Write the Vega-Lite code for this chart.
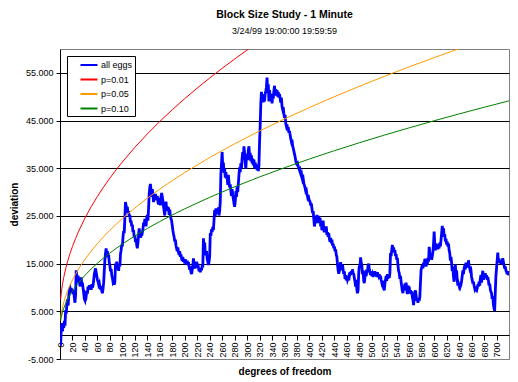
{
"$schema": "https://vega.github.io/schema/vega-lite/v6.json",
"autosize": "none",
"width": 449,
"height": 310,
"padding": {"left": 60, "top": 49, "right": 9, "bottom": 23},
"background": "white",
"config": {"font": "Liberation Sans", "view": {"stroke": "#808080", "strokeWidth": 1}},
"title": {"text": "Block Size Study - 1 Minute", "subtitle": "3/24/99 19:00:00 19:59:59", "font": "Liberation Sans", "fontSize": 10.5, "fontWeight": "bold", "color": "black", "subtitleFont": "Liberation Sans", "subtitleFontSize": 9, "subtitleColor": "black", "subtitlePadding": 7, "anchor": "middle", "offset": 13},
"datasets": {
"eggs": [
{"x":0,"y":0},{"x":1,"y":-2200},{"x":2,"y":1500},{"x":3,"y":2500},{"x":4,"y":800},{"x":5,"y":2300},{"x":6,"y":1500},{"x":7,"y":3000},{"x":8,"y":2000},{"x":9,"y":5200},
{"x":10,"y":4500},{"x":11,"y":6500},{"x":12,"y":7500},{"x":13,"y":6200},{"x":14,"y":8000},{"x":15,"y":9500},{"x":16,"y":9800},{"x":17,"y":8800},{"x":18,"y":9900},{"x":19,"y":9000},
{"x":20,"y":9600},{"x":21,"y":8600},{"x":22,"y":9400},{"x":23,"y":7800},{"x":24,"y":6800},{"x":25,"y":8500},{"x":26,"y":13600},{"x":27,"y":12200},{"x":28,"y":11000},{"x":29,"y":12500},
{"x":30,"y":11200},{"x":31,"y":11800},{"x":32,"y":10200},{"x":33,"y":11300},{"x":34,"y":12100},{"x":35,"y":10500},{"x":36,"y":11000},{"x":37,"y":9800},{"x":38,"y":8800},{"x":39,"y":7600},
{"x":40,"y":7300},{"x":41,"y":8500},{"x":42,"y":8200},{"x":43,"y":9200},{"x":44,"y":8700},{"x":45,"y":10200},{"x":46,"y":9600},{"x":47,"y":10500},{"x":48,"y":9800},{"x":49,"y":10300},
{"x":50,"y":9500},{"x":51,"y":10700},{"x":52,"y":10000},{"x":53,"y":10400},{"x":54,"y":11500},{"x":55,"y":12800},{"x":56,"y":13400},{"x":57,"y":14000},{"x":58,"y":13200},{"x":59,"y":12400},
{"x":60,"y":11600},{"x":61,"y":11200},{"x":62,"y":10600},{"x":63,"y":10900},{"x":64,"y":10000},{"x":65,"y":9600},{"x":66,"y":10300},{"x":67,"y":9200},{"x":68,"y":8800},{"x":69,"y":9700},
{"x":70,"y":11000},{"x":71,"y":13500},{"x":72,"y":15800},{"x":73,"y":17200},{"x":74,"y":18200},{"x":75,"y":16800},{"x":76,"y":17600},{"x":77,"y":16300},{"x":78,"y":16900},{"x":79,"y":15200},
{"x":80,"y":14600},{"x":81,"y":13400},{"x":82,"y":13900},{"x":83,"y":12600},{"x":84,"y":12000},{"x":85,"y":11200},{"x":86,"y":11500},{"x":87,"y":10600},{"x":88,"y":11200},{"x":89,"y":15000},
{"x":90,"y":14200},{"x":91,"y":15400},{"x":92,"y":13800},{"x":93,"y":14600},{"x":94,"y":13500},{"x":95,"y":15000},{"x":96,"y":14400},{"x":97,"y":17000},{"x":98,"y":17800},{"x":99,"y":19000},
{"x":100,"y":18600},{"x":101,"y":20500},{"x":102,"y":21800},{"x":103,"y":21400},{"x":104,"y":24500},{"x":105,"y":27900},{"x":106,"y":27200},{"x":107,"y":26400},{"x":108,"y":26900},{"x":109,"y":25600},
{"x":110,"y":26000},{"x":111,"y":24800},{"x":112,"y":25200},{"x":113,"y":23600},{"x":114,"y":24000},{"x":115,"y":22800},{"x":116,"y":23200},{"x":117,"y":21600},{"x":118,"y":22000},{"x":119,"y":20500},
{"x":120,"y":21000},{"x":121,"y":19500},{"x":122,"y":20200},{"x":123,"y":18900},{"x":124,"y":18200},{"x":125,"y":19400},{"x":126,"y":21000},{"x":127,"y":22400},{"x":128,"y":21200},{"x":129,"y":20400},
{"x":130,"y":21600},{"x":131,"y":20800},{"x":132,"y":21500},{"x":133,"y":22200},{"x":134,"y":23600},{"x":135,"y":22900},{"x":136,"y":24400},{"x":137,"y":23800},{"x":138,"y":22800},{"x":139,"y":24600},
{"x":140,"y":25200},{"x":141,"y":24000},{"x":142,"y":26500},{"x":143,"y":29500},{"x":144,"y":31000},{"x":145,"y":31700},{"x":146,"y":30400},{"x":147,"y":29000},{"x":148,"y":30600},{"x":149,"y":29600},
{"x":150,"y":27900},{"x":151,"y":29200},{"x":152,"y":28400},{"x":153,"y":29600},{"x":154,"y":28800},{"x":155,"y":28300},{"x":156,"y":29200},{"x":157,"y":28000},{"x":158,"y":27400},{"x":159,"y":28800},
{"x":160,"y":28200},{"x":161,"y":27200},{"x":162,"y":29000},{"x":163,"y":29800},{"x":164,"y":29000},{"x":165,"y":28200},{"x":166,"y":27000},{"x":167,"y":26000},{"x":168,"y":25100},{"x":169,"y":27200},
{"x":170,"y":28000},{"x":171,"y":26400},{"x":172,"y":27000},{"x":173,"y":26000},{"x":174,"y":26800},{"x":175,"y":25200},{"x":176,"y":26300},{"x":177,"y":25000},{"x":178,"y":24400},{"x":179,"y":24000},
{"x":180,"y":23000},{"x":181,"y":22000},{"x":182,"y":21200},{"x":183,"y":20600},{"x":184,"y":19600},{"x":185,"y":20000},{"x":186,"y":18800},{"x":187,"y":18200},{"x":188,"y":17600},{"x":189,"y":18400},
{"x":190,"y":17400},{"x":191,"y":16800},{"x":192,"y":17600},{"x":193,"y":16400},{"x":194,"y":16900},{"x":195,"y":16000},{"x":196,"y":15600},{"x":197,"y":16400},{"x":198,"y":15400},{"x":199,"y":15800},
{"x":200,"y":15000},{"x":201,"y":15900},{"x":202,"y":15200},{"x":203,"y":14800},{"x":204,"y":15600},{"x":205,"y":14700},{"x":206,"y":15300},{"x":207,"y":14400},{"x":208,"y":13700},{"x":209,"y":14400},
{"x":210,"y":13200},{"x":211,"y":12800},{"x":212,"y":13600},{"x":213,"y":14600},{"x":214,"y":16100},{"x":215,"y":14800},{"x":216,"y":14000},{"x":217,"y":14600},{"x":218,"y":14100},{"x":219,"y":15400},
{"x":220,"y":14600},{"x":221,"y":15000},{"x":222,"y":14200},{"x":223,"y":13400},{"x":224,"y":14000},{"x":225,"y":13200},{"x":226,"y":14100},{"x":227,"y":13600},{"x":228,"y":14700},{"x":229,"y":14200},
{"x":230,"y":20300},{"x":231,"y":18500},{"x":232,"y":19400},{"x":233,"y":17200},{"x":234,"y":16800},{"x":235,"y":17600},{"x":236,"y":16000},{"x":237,"y":15400},{"x":238,"y":14700},{"x":239,"y":15400},
{"x":240,"y":16500},{"x":241,"y":21400},{"x":242,"y":20800},{"x":243,"y":22200},{"x":244,"y":21600},{"x":245,"y":22700},{"x":246,"y":22000},{"x":247,"y":24200},{"x":248,"y":26200},{"x":249,"y":25000},
{"x":250,"y":26600},{"x":251,"y":25600},{"x":252,"y":26200},{"x":253,"y":25400},{"x":254,"y":26800},{"x":255,"y":25100},{"x":256,"y":26000},{"x":257,"y":28000},{"x":258,"y":34000},{"x":259,"y":36000},
{"x":260,"y":38400},{"x":261,"y":35300},{"x":262,"y":36200},{"x":263,"y":34000},{"x":264,"y":35000},{"x":265,"y":33000},{"x":266,"y":34200},{"x":267,"y":32800},{"x":268,"y":33400},{"x":269,"y":31500},
{"x":270,"y":33600},{"x":271,"y":32000},{"x":272,"y":31000},{"x":273,"y":31600},{"x":274,"y":30200},{"x":275,"y":29200},{"x":276,"y":30600},{"x":277,"y":29400},{"x":278,"y":28600},{"x":279,"y":27600},
{"x":280,"y":26900},{"x":281,"y":28000},{"x":282,"y":30200},{"x":283,"y":29000},{"x":284,"y":31100},{"x":285,"y":30000},{"x":286,"y":31800},{"x":287,"y":33600},{"x":288,"y":35200},{"x":289,"y":34200},
{"x":290,"y":36000},{"x":291,"y":35000},{"x":292,"y":37000},{"x":293,"y":38400},{"x":294,"y":36800},{"x":295,"y":39600},{"x":296,"y":38200},{"x":297,"y":36000},{"x":298,"y":34900},{"x":299,"y":37400},
{"x":300,"y":38000},{"x":301,"y":36700},{"x":302,"y":38800},{"x":303,"y":39600},{"x":304,"y":37400},{"x":305,"y":38200},{"x":306,"y":36500},{"x":307,"y":37700},{"x":308,"y":36000},{"x":309,"y":37000},
{"x":310,"y":35600},{"x":311,"y":36800},{"x":312,"y":35000},{"x":313,"y":36200},{"x":314,"y":35000},{"x":315,"y":35800},{"x":316,"y":34600},{"x":317,"y":35200},{"x":318,"y":34400},{"x":319,"y":35600},
{"x":320,"y":40500},{"x":321,"y":44000},{"x":322,"y":48500},{"x":323,"y":51000},{"x":324,"y":49500},{"x":325,"y":50500},{"x":326,"y":48800},{"x":327,"y":50200},{"x":328,"y":49000},{"x":329,"y":50600},
{"x":330,"y":51200},{"x":331,"y":52000},{"x":332,"y":54000},{"x":333,"y":50800},{"x":334,"y":52600},{"x":335,"y":49000},{"x":336,"y":51400},{"x":337,"y":50000},{"x":338,"y":49200},{"x":339,"y":50600},
{"x":340,"y":48600},{"x":341,"y":50000},{"x":342,"y":49600},{"x":343,"y":51200},{"x":344,"y":52300},{"x":345,"y":50400},{"x":346,"y":51600},{"x":347,"y":50200},{"x":348,"y":51400},{"x":349,"y":50000},
{"x":350,"y":51000},{"x":351,"y":49800},{"x":352,"y":50600},{"x":353,"y":49600},{"x":354,"y":48800},{"x":355,"y":49800},{"x":356,"y":48000},{"x":357,"y":47400},{"x":358,"y":47800},{"x":359,"y":46500},
{"x":360,"y":45600},{"x":361,"y":46200},{"x":362,"y":44400},{"x":363,"y":43800},{"x":364,"y":44200},{"x":365,"y":43000},{"x":366,"y":43600},{"x":367,"y":42400},{"x":368,"y":42800},{"x":369,"y":42000},
{"x":370,"y":41200},{"x":371,"y":40600},{"x":372,"y":41000},{"x":373,"y":39800},{"x":374,"y":39200},{"x":375,"y":38600},{"x":376,"y":38000},{"x":377,"y":37400},{"x":378,"y":36600},{"x":379,"y":36000},
{"x":380,"y":35800},{"x":381,"y":36000},{"x":382,"y":35400},{"x":383,"y":35000},{"x":384,"y":35400},{"x":385,"y":34200},{"x":386,"y":33800},{"x":387,"y":34000},{"x":388,"y":33000},{"x":389,"y":32500},
{"x":390,"y":32800},{"x":391,"y":31800},{"x":392,"y":31400},{"x":393,"y":30800},{"x":394,"y":30200},{"x":395,"y":30400},{"x":396,"y":29600},{"x":397,"y":29000},{"x":398,"y":29400},{"x":399,"y":28600},
{"x":400,"y":28200},{"x":401,"y":28000},{"x":402,"y":27200},{"x":403,"y":27600},{"x":404,"y":26600},{"x":405,"y":25600},{"x":406,"y":26000},{"x":407,"y":24400},{"x":408,"y":22800},{"x":409,"y":23600},
{"x":410,"y":24800},{"x":411,"y":24000},{"x":412,"y":25200},{"x":413,"y":23500},{"x":414,"y":24200},{"x":415,"y":25000},{"x":416,"y":23800},{"x":417,"y":24600},{"x":418,"y":22800},{"x":419,"y":23400},
{"x":420,"y":22000},{"x":421,"y":23200},{"x":422,"y":24000},{"x":423,"y":22000},{"x":424,"y":21600},{"x":425,"y":22600},{"x":426,"y":21800},{"x":427,"y":22800},{"x":428,"y":21000},{"x":429,"y":21600},
{"x":430,"y":20600},{"x":431,"y":21400},{"x":432,"y":20200},{"x":433,"y":19600},{"x":434,"y":20400},{"x":435,"y":19300},{"x":436,"y":20000},{"x":437,"y":18800},{"x":438,"y":19200},{"x":439,"y":18200},
{"x":440,"y":18600},{"x":441,"y":17600},{"x":442,"y":18000},{"x":443,"y":16800},{"x":444,"y":16400},{"x":445,"y":14800},{"x":446,"y":13600},{"x":447,"y":12900},{"x":448,"y":13400},{"x":449,"y":14600},
{"x":450,"y":15300},{"x":451,"y":13600},{"x":452,"y":14200},{"x":453,"y":14800},{"x":454,"y":13800},{"x":455,"y":12800},{"x":456,"y":13400},{"x":457,"y":11800},{"x":458,"y":12600},{"x":459,"y":11500},
{"x":460,"y":12200},{"x":461,"y":11600},{"x":462,"y":12000},{"x":463,"y":11500},{"x":464,"y":12300},{"x":465,"y":13200},{"x":466,"y":12600},{"x":467,"y":13400},{"x":468,"y":12800},{"x":469,"y":13800},
{"x":470,"y":13000},{"x":471,"y":12800},{"x":472,"y":12000},{"x":473,"y":11200},{"x":474,"y":10200},{"x":475,"y":11600},{"x":476,"y":9600},{"x":477,"y":8800},{"x":478,"y":9400},{"x":479,"y":13000},
{"x":480,"y":14600},{"x":481,"y":14200},{"x":482,"y":16300},{"x":483,"y":15200},{"x":484,"y":14600},{"x":485,"y":12800},{"x":486,"y":13600},{"x":487,"y":11400},{"x":488,"y":10900},{"x":489,"y":12200},
{"x":490,"y":12800},{"x":491,"y":12400},{"x":492,"y":13600},{"x":493,"y":13200},{"x":494,"y":14600},{"x":495,"y":15000},{"x":496,"y":13800},{"x":497,"y":13200},{"x":498,"y":12600},{"x":499,"y":13400},
{"x":500,"y":12400},{"x":501,"y":12800},{"x":502,"y":12200},{"x":503,"y":12900},{"x":504,"y":12400},{"x":505,"y":13400},{"x":506,"y":12600},{"x":507,"y":13000},{"x":508,"y":12200},{"x":509,"y":13200},
{"x":510,"y":12600},{"x":511,"y":12300},{"x":512,"y":12800},{"x":513,"y":12000},{"x":514,"y":12400},{"x":515,"y":11600},{"x":516,"y":11000},{"x":517,"y":11400},{"x":518,"y":10400},{"x":519,"y":9800},
{"x":520,"y":9400},{"x":521,"y":10800},{"x":522,"y":11600},{"x":523,"y":12400},{"x":524,"y":11400},{"x":525,"y":12800},{"x":526,"y":11800},{"x":527,"y":12600},{"x":528,"y":12000},{"x":529,"y":13000},
{"x":530,"y":17200},{"x":531,"y":16600},{"x":532,"y":17800},{"x":533,"y":18900},{"x":534,"y":17900},{"x":535,"y":18400},{"x":536,"y":17400},{"x":537,"y":17800},{"x":538,"y":16600},{"x":539,"y":17000},
{"x":540,"y":15800},{"x":541,"y":16200},{"x":542,"y":14600},{"x":543,"y":13400},{"x":544,"y":13000},{"x":545,"y":11800},{"x":546,"y":12400},{"x":547,"y":11200},{"x":548,"y":10200},{"x":549,"y":9200},
{"x":550,"y":8800},{"x":551,"y":10200},{"x":552,"y":9400},{"x":553,"y":10800},{"x":554,"y":10000},{"x":555,"y":11000},{"x":556,"y":9600},{"x":557,"y":8600},{"x":558,"y":10400},{"x":559,"y":9400},
{"x":560,"y":10200},{"x":561,"y":8800},{"x":562,"y":9400},{"x":563,"y":8600},{"x":564,"y":9200},{"x":565,"y":8000},{"x":566,"y":7400},{"x":567,"y":6300},{"x":568,"y":8000},{"x":569,"y":9000},
{"x":570,"y":9400},{"x":571,"y":8400},{"x":572,"y":7200},{"x":573,"y":7800},{"x":574,"y":6800},{"x":575,"y":7600},{"x":576,"y":7200},{"x":577,"y":8000},{"x":578,"y":11000},{"x":579,"y":13600},
{"x":580,"y":14200},{"x":581,"y":14700},{"x":582,"y":14000},{"x":583,"y":15200},{"x":584,"y":14600},{"x":585,"y":16000},{"x":586,"y":15200},{"x":587,"y":14400},{"x":588,"y":15600},{"x":589,"y":14800},
{"x":590,"y":16200},{"x":591,"y":15400},{"x":592,"y":18500},{"x":593,"y":17400},{"x":594,"y":16400},{"x":595,"y":17000},{"x":596,"y":15800},{"x":597,"y":16600},{"x":598,"y":17400},{"x":599,"y":19200},
{"x":600,"y":21700},{"x":601,"y":19000},{"x":602,"y":17800},{"x":603,"y":19200},{"x":604,"y":18400},{"x":605,"y":19000},{"x":606,"y":18000},{"x":607,"y":18800},{"x":608,"y":18200},{"x":609,"y":19400},
{"x":610,"y":18600},{"x":611,"y":20000},{"x":612,"y":21400},{"x":613,"y":22900},{"x":614,"y":21800},{"x":615,"y":22400},{"x":616,"y":20600},{"x":617,"y":21200},{"x":618,"y":19600},{"x":619,"y":20200},
{"x":620,"y":19000},{"x":621,"y":19600},{"x":622,"y":18600},{"x":623,"y":19200},{"x":624,"y":17800},{"x":625,"y":17200},{"x":626,"y":15600},{"x":627,"y":16400},{"x":628,"y":15100},{"x":629,"y":13400},
{"x":630,"y":14400},{"x":631,"y":12200},{"x":632,"y":11200},{"x":633,"y":12800},{"x":634,"y":14800},{"x":635,"y":12000},{"x":636,"y":13600},{"x":637,"y":11600},{"x":638,"y":10400},{"x":639,"y":10800},
{"x":640,"y":10300},{"x":641,"y":10800},{"x":642,"y":10200},{"x":643,"y":10600},{"x":644,"y":11400},{"x":645,"y":12400},{"x":646,"y":13600},{"x":647,"y":12800},{"x":648,"y":14000},{"x":649,"y":14600},
{"x":650,"y":13800},{"x":651,"y":15200},{"x":652,"y":14400},{"x":653,"y":15000},{"x":654,"y":14200},{"x":655,"y":15700},{"x":656,"y":14600},{"x":657,"y":14000},{"x":658,"y":14400},{"x":659,"y":13600},
{"x":660,"y":12200},{"x":661,"y":11600},{"x":662,"y":10800},{"x":663,"y":11200},{"x":664,"y":10400},{"x":665,"y":9800},{"x":666,"y":10200},{"x":667,"y":9400},{"x":668,"y":9300},{"x":669,"y":9800},
{"x":670,"y":10600},{"x":671,"y":10200},{"x":672,"y":11200},{"x":673,"y":10400},{"x":674,"y":11800},{"x":675,"y":12600},{"x":676,"y":11000},{"x":677,"y":12400},{"x":678,"y":13500},{"x":679,"y":11600},
{"x":680,"y":12800},{"x":681,"y":12200},{"x":682,"y":13000},{"x":683,"y":12000},{"x":684,"y":12600},{"x":685,"y":11600},{"x":686,"y":12200},{"x":687,"y":11400},{"x":688,"y":10400},{"x":689,"y":10800},
{"x":690,"y":9600},{"x":691,"y":9100},{"x":692,"y":8800},{"x":693,"y":7600},{"x":694,"y":8200},{"x":695,"y":6400},{"x":696,"y":5600},{"x":697,"y":5100},{"x":698,"y":9000},{"x":699,"y":12400},
{"x":700,"y":14000},{"x":701,"y":15600},{"x":702,"y":17300},{"x":703,"y":15400},{"x":704,"y":16000},{"x":705,"y":15200},{"x":706,"y":15600},{"x":707,"y":14900},{"x":708,"y":15400},{"x":709,"y":15600},
{"x":710,"y":16100},{"x":711,"y":15400},{"x":712,"y":14700},{"x":713,"y":14000},{"x":714,"y":14400},{"x":715,"y":13600},{"x":716,"y":13300},{"x":717,"y":12800},{"x":718,"y":13400},{"x":719,"y":12600},
{"x":720,"y":13000}
],
"crit": [
{"s":"p=0.01","x":1,"y":7468},{"s":"p=0.01","x":2,"y":8796},{"s":"p=0.01","x":4,"y":10673},{"s":"p=0.01","x":6,"y":12114},{"s":"p=0.01","x":9,"y":13878},{"s":"p=0.01","x":12,"y":15365},{"s":"p=0.01","x":16,"y":17083},{"s":"p=0.01","x":20,"y":18596},{"s":"p=0.01","x":25,"y":20288},{"s":"p=0.01","x":30,"y":21817},{"s":"p=0.01","x":40,"y":24533},{"s":"p=0.01","x":50,"y":26926},{"s":"p=0.01","x":60,"y":29089},{"s":"p=0.01","x":70,"y":31078},{"s":"p=0.01","x":80,"y":32930},{"s":"p=0.01","x":90,"y":34668},{"s":"p=0.01","x":100,"y":36313},{"s":"p=0.01","x":120,"y":39372},{"s":"p=0.01","x":140,"y":42186},{"s":"p=0.01","x":160,"y":44803},{"s":"p=0.01","x":180,"y":47263},{"s":"p=0.01","x":200,"y":49589},{"s":"p=0.01","x":220,"y":51801},{"s":"p=0.01","x":240,"y":53914},{"s":"p=0.01","x":260,"y":55943},{"s":"p=0.01","x":280,"y":57893},{"s":"p=0.01","x":300,"y":59776},{"s":"p=0.01","x":320,"y":61596},
{"s":"p=0.05","x":1,"y":3498},{"s":"p=0.05","x":2,"y":4462},{"s":"p=0.05","x":4,"y":5826},{"s":"p=0.05","x":6,"y":6872},{"s":"p=0.05","x":9,"y":8154},{"s":"p=0.05","x":12,"y":9235},{"s":"p=0.05","x":16,"y":10482},{"s":"p=0.05","x":20,"y":11581},{"s":"p=0.05","x":25,"y":12810},{"s":"p=0.05","x":30,"y":13921},{"s":"p=0.05","x":40,"y":15894},{"s":"p=0.05","x":50,"y":17631},{"s":"p=0.05","x":60,"y":19203},{"s":"p=0.05","x":70,"y":20647},{"s":"p=0.05","x":80,"y":21993},{"s":"p=0.05","x":90,"y":23256},{"s":"p=0.05","x":100,"y":24450},{"s":"p=0.05","x":120,"y":26672},{"s":"p=0.05","x":140,"y":28716},{"s":"p=0.05","x":160,"y":30618},{"s":"p=0.05","x":180,"y":32404},{"s":"p=0.05","x":200,"y":34093},{"s":"p=0.05","x":240,"y":37236},{"s":"p=0.05","x":280,"y":40125},{"s":"p=0.05","x":320,"y":42815},{"s":"p=0.05","x":360,"y":45340},{"s":"p=0.05","x":400,"y":47730},{"s":"p=0.05","x":440,"y":50002},{"s":"p=0.05","x":480,"y":52174},{"s":"p=0.05","x":520,"y":54257},{"s":"p=0.05","x":560,"y":56261},{"s":"p=0.05","x":600,"y":58194},{"s":"p=0.05","x":640,"y":60065},{"s":"p=0.05","x":660,"y":60977},
{"s":"p=0.10","x":1,"y":3050},{"s":"p=0.10","x":2,"y":3788},{"s":"p=0.10","x":4,"y":4833},{"s":"p=0.10","x":6,"y":5635},{"s":"p=0.10","x":9,"y":6617},{"s":"p=0.10","x":12,"y":7445},{"s":"p=0.10","x":16,"y":8400},{"s":"p=0.10","x":20,"y":9242},{"s":"p=0.10","x":25,"y":10184},{"s":"p=0.10","x":30,"y":11035},{"s":"p=0.10","x":40,"y":12546},{"s":"p=0.10","x":50,"y":13878},{"s":"p=0.10","x":60,"y":15082},{"s":"p=0.10","x":70,"y":16189},{"s":"p=0.10","x":80,"y":17219},{"s":"p=0.10","x":90,"y":18186},{"s":"p=0.10","x":100,"y":19102},{"s":"p=0.10","x":120,"y":20804},{"s":"p=0.10","x":140,"y":22370},{"s":"p=0.10","x":160,"y":23827},{"s":"p=0.10","x":180,"y":25195},{"s":"p=0.10","x":200,"y":26490},{"s":"p=0.10","x":240,"y":28897},{"s":"p=0.10","x":280,"y":31111},{"s":"p=0.10","x":320,"y":33172},{"s":"p=0.10","x":360,"y":35107},{"s":"p=0.10","x":400,"y":36938},{"s":"p=0.10","x":440,"y":38679},{"s":"p=0.10","x":480,"y":40344},{"s":"p=0.10","x":520,"y":41938},{"s":"p=0.10","x":560,"y":43474},{"s":"p=0.10","x":600,"y":44955},{"s":"p=0.10","x":640,"y":46388},{"s":"p=0.10","x":680,"y":47777},{"s":"p=0.10","x":720,"y":49124}
]
},
"encoding": {
"x": {"field": "x", "type": "quantitative", "scale": {"domain": [0, 720], "nice": false, "zero": false},
 "axis": {"title": "degrees of freedom", "titleFont": "Liberation Sans", "titleFontSize": 10, "titleFontWeight": "bold", "titleColor": "black", "titlePadding": 9,
  "values": [0,20,40,60,80,100,120,140,160,180,200,220,240,260,280,300,320,340,360,380,400,420,440,460,480,500,520,540,560,580,600,620,640,660,680,700],
  "offset": -24, "labelAngle": -90, "labelFont": "Liberation Sans", "labelFontSize": 9, "labelColor": "black", "labelPadding": 2, "labelOverlap": false, "labelFlush": false,
  "tickSize": 5, "tickColor": "black", "domainColor": "black", "grid": false}},
"y": {"field": "y", "type": "quantitative", "scale": {"domain": [-5000, 60000], "nice": false, "zero": false},
 "axis": {"title": "deviation", "titleFont": "Liberation Sans", "titleFontSize": 10, "titleFontWeight": "bold", "titleColor": "black", "titlePadding": 6,
  "values": [-5000,5000,15000,25000,35000,45000,55000],
  "labelExpr": "(datum.value < 0 ? '-' : '') + replace(format(abs(datum.value), ','), ',', '.')",
  "labelFont": "Liberation Sans", "labelFontSize": 9, "labelColor": "black", "labelPadding": 3, "labelOverlap": false, "labelFlush": false,
  "tickSize": 4, "tickColor": "black", "domainColor": "black",
  "grid": true, "gridColor": {"condition": {"test": "datum.value < 0", "value": "#808080"}, "value": "black"}, "gridOpacity": 1, "gridWidth": 1}}
},
"layer": [
{"data": {"name": "eggs"},
 "mark": {"type": "line", "strokeWidth": 2.8, "clip": true, "interpolate": "linear"},
 "encoding": {"color": {"datum": "all eggs", "type": "nominal",
   "scale": {"domain": ["all eggs", "p=0.01", "p=0.05", "p=0.10"], "range": ["#0000ff", "#ff0000", "#ff9900", "#008000"]},
   "legend": {"title": null, "orient": "none", "legendX": 7, "legendY": 7, "strokeColor": "black", "fillColor": "white", "padding": 2,
     "symbolType": "M-1.5,0L1.5,0", "symbolSize": 128, "symbolStrokeWidth": 2, "symbolOffset": 13, "labelFont": "Liberation Sans", "labelFontSize": 9, "labelColor": "black", "rowPadding": 2.5, "labelOffset": 5}}}},
{"data": {"name": "crit"},
 "mark": {"type": "line", "strokeWidth": 1, "clip": true, "interpolate": "linear"},
 "encoding": {"color": {"field": "s", "type": "nominal", "legend": {"title": null}}, "detail": {"field": "s"}}}
]
}
